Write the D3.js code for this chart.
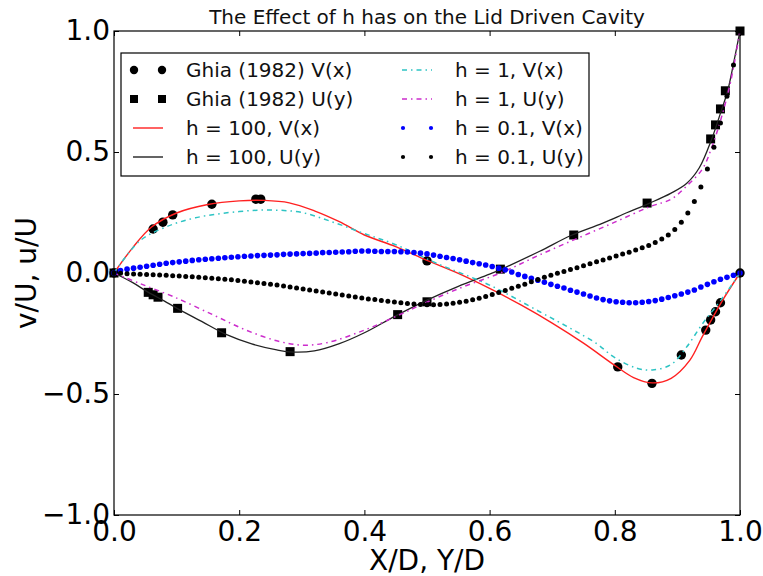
<!DOCTYPE html>
<html>
<head>
<meta charset="utf-8">
<title>The Effect of h has on the Lid Driven Cavity</title>
<script src="https://cdn.jsdelivr.net/npm/d3@7"></script>
<style>
  body { margin: 0; background: #fff; }
  svg { font-family: "DejaVu Sans", sans-serif; }
</style>
</head>
<body>
<div id="chart"></div>
<script>
// Ghia (1982) reference points
var ghiaX = [0, 0.0625, 0.0781, 0.0938, 0.1563, 0.2266, 0.2344, 0.5, 0.8047, 0.8594, 0.9063, 0.9453, 0.9531, 0.9609, 0.9688, 1];
var ghiaV = [0, 0.182, 0.21, 0.24, 0.284, 0.305, 0.305, 0.05, -0.388, -0.456, -0.339, -0.236, -0.194, -0.16, -0.123, 0];
var ghiaY = [0, 0.0547, 0.0625, 0.0703, 0.1016, 0.1719, 0.2813, 0.4531, 0.5, 0.6172, 0.7344, 0.8516, 0.9531, 0.9609, 0.9688, 0.9766, 1];
var ghiaU = [0, -0.08, -0.09, -0.10, -0.146, -0.247, -0.325, -0.172, -0.119, 0.016, 0.157, 0.289, 0.554, 0.612, 0.678, 0.753, 1.0];

// h = 100
var h100Vx = [0, 0.03, 0.06, 0.1, 0.15, 0.2, 0.24, 0.28, 0.32, 0.36, 0.4, 0.45, 0.5, 0.55, 0.6, 0.65, 0.7, 0.75, 0.8, 0.83, 0.86, 0.89, 0.92, 0.94, 0.97, 1];
var h100V = [0, 0.105, 0.19, 0.248, 0.283, 0.298, 0.300, 0.290, 0.257, 0.212, 0.157, 0.109, 0.052, -0.002, -0.064, -0.132, -0.207, -0.29, -0.382, -0.432, -0.454, -0.435, -0.36, -0.262, -0.122, 0];
var h100Uy = [0, 0.03, 0.055, 0.08, 0.1, 0.14, 0.18, 0.22, 0.26, 0.28, 0.32, 0.36, 0.4, 0.45, 0.5, 0.55, 0.6, 0.62, 0.68, 0.73, 0.78, 0.82, 0.855, 0.89, 0.915, 0.935, 0.955, 0.97, 0.98, 0.99, 1];
var h100U = [0, -0.04, -0.08, -0.115, -0.145, -0.2, -0.255, -0.293, -0.318, -0.326, -0.322, -0.292, -0.247, -0.177, -0.112, -0.055, -0.005, 0.017, 0.09, 0.155, 0.205, 0.25, 0.288, 0.33, 0.371, 0.435, 0.555, 0.67, 0.75, 0.87, 1.0];

// h = 1
var h1Vx = [0, 0.04, 0.08, 0.13, 0.2, 0.25, 0.3, 0.35, 0.4, 0.45, 0.52, 0.6, 0.68, 0.73, 0.77, 0.8, 0.835, 0.86, 0.89, 0.915, 0.94, 0.97, 1];
var h1V = [0, 0.13, 0.187, 0.228, 0.254, 0.26, 0.25, 0.21, 0.163, 0.117, 0.035, -0.05, -0.16, -0.23, -0.29, -0.35, -0.393, -0.401, -0.378, -0.305, -0.21, -0.11, 0];
var h1Uy = [0, 0.04, 0.095, 0.16, 0.21, 0.26, 0.3, 0.34, 0.4, 0.45, 0.49, 0.55, 0.62, 0.68, 0.74, 0.8, 0.856, 0.89, 0.915, 0.94, 0.955, 0.97, 0.985, 1];
var h1U = [0, -0.042, -0.098, -0.175, -0.235, -0.28, -0.298, -0.288, -0.236, -0.18, -0.132, -0.065, 0.003, 0.075, 0.143, 0.21, 0.274, 0.305, 0.36, 0.43, 0.52, 0.64, 0.79, 1];

// h = 0.1, samples evenly spaced from 0 to 1
var h01V = [0, 0.010, 0.016, 0.020, 0.024, 0.028, 0.032, 0.036, 0.040, 0.043,
  0.046, 0.049, 0.052, 0.055, 0.057, 0.059, 0.061, 0.063, 0.065, 0.067,
  0.069, 0.070, 0.072, 0.073, 0.074, 0.075, 0.077, 0.078, 0.079, 0.080,
  0.081, 0.082, 0.084, 0.085, 0.086, 0.087, 0.088, 0.090, 0.091, 0.091,
  0.090, 0.089, 0.089, 0.089, 0.088, 0.087, 0.085, 0.082, 0.079, 0.074,
  0.069, 0.064, 0.060, 0.055, 0.049, 0.043, 0.038, 0.033, 0.027, 0.020,
  0.013, 0.004, -0.006, -0.014, -0.022, -0.030, -0.038, -0.047, -0.055, -0.062,
  -0.071, -0.079, -0.087, -0.095, -0.103, -0.110, -0.115, -0.119, -0.121, -0.123,
  -0.123, -0.121, -0.118, -0.114, -0.108, -0.101, -0.094, -0.087, -0.079, -0.070,
  -0.058, -0.047, -0.036, -0.026, -0.018, -0.009, 0];
var h01U = [0, -0.001, -0.003, -0.004, -0.005, -0.006, -0.007, -0.008, -0.009, -0.011,
  -0.012, -0.014, -0.016, -0.018, -0.020, -0.022, -0.024, -0.026, -0.028, -0.031,
  -0.034, -0.037, -0.040, -0.043, -0.046, -0.050, -0.054, -0.058, -0.062, -0.066,
  -0.070, -0.074, -0.079, -0.083, -0.087, -0.091, -0.095, -0.099, -0.103, -0.107,
  -0.110, -0.114, -0.117, -0.120, -0.123, -0.126, -0.128, -0.130, -0.131, -0.131,
  -0.130, -0.128, -0.125, -0.121, -0.117, -0.111, -0.104, -0.097, -0.089, -0.081,
  -0.072, -0.063, -0.055, -0.046, -0.036, -0.027, -0.018, -0.009, -0.001, 0.006,
  0.014, 0.022, 0.030, 0.038, 0.046, 0.054, 0.062, 0.070, 0.078, 0.086,
  0.095, 0.104, 0.114, 0.126, 0.140, 0.157, 0.180, 0.210, 0.248, 0.295,
  0.355, 0.430, 0.520, 0.620, 0.730, 0.860, 1.0];

var xTicks = [0, 0.2, 0.4, 0.6, 0.8, 1.0];
var yTicks = [-1, -0.5, 0, 0.5, 1];
var legendLabels = ['Ghia (1982) V(x)', 'Ghia (1982) U(y)', 'h = 100, V(x)', 'h = 100, U(y)',
  'h = 1, V(x)', 'h = 1, U(y)', 'h = 0.1, V(x)', 'h = 0.1, U(y)'];

var width = 763, height = 576;
var plotL = 114, plotR = 740, plotT = 31, plotB = 515;

var svg = d3.select('#chart').append('svg')
  .attr('width', width)
  .attr('height', height);

var x = d3.scaleLinear().domain([0, 1]).range([plotL, plotR]);
var y = d3.scaleLinear().domain([-1, 1]).range([plotB, plotT]);
var fmt = d3.format('.1f');

svg.append('defs').append('clipPath').attr('id', 'clip')
  .append('rect')
  .attr('x', plotL - 6).attr('y', plotT - 6)
  .attr('width', plotR - plotL + 12).attr('height', plotB - plotT + 12);

// axes, ticks pointing inward
function styleAxis(g) {
  g.select('.domain').remove();
  g.selectAll('.tick line').attr('stroke', '#000').attr('stroke-width', 1);
  g.selectAll('.tick text').attr('fill', '#000').style('font-size', '28px').style('font-family', '"DejaVu Sans", sans-serif');
}

svg.append('g')
  .attr('transform', `translate(0,${plotB})`)
  .call(d3.axisBottom(x).tickValues(xTicks).tickFormat(fmt).tickSize(-5).tickPadding(6))
  .call(styleAxis);
svg.append('g')
  .attr('transform', `translate(0,${plotT})`)
  .call(d3.axisTop(x).tickValues(xTicks).tickFormat('').tickSize(-5))
  .call(styleAxis);
svg.append('g')
  .attr('transform', `translate(${plotL},0)`)
  .call(d3.axisLeft(y).tickValues(yTicks).tickFormat(fmt).tickSize(-5).tickPadding(4))
  .call(styleAxis);
svg.append('g')
  .attr('transform', `translate(${plotR},0)`)
  .call(d3.axisRight(y).tickValues(yTicks).tickFormat('').tickSize(-5))
  .call(styleAxis);

var plot = svg.append('g').attr('clip-path', 'url(#clip)');

var line = d3.line()
  .x(d => x(d[0]))
  .y(d => y(d[1]))
  .curve(d3.curveCatmullRom.alpha(0.5));

var pairs = (xs, ys) => xs.map((v, i) => [v, ys[i]]);

// Ghia markers
plot.selectAll('circle.ghia')
  .data(pairs(ghiaX, ghiaV))
  .enter().append('circle')
  .attr('class', 'ghia')
  .attr('cx', d => x(d[0]))
  .attr('cy', d => y(d[1]))
  .attr('r', 4.7)
  .attr('fill', '#000');

plot.selectAll('rect.ghia')
  .data(pairs(ghiaY, ghiaU))
  .enter().append('rect')
  .attr('class', 'ghia')
  .attr('x', d => x(d[0]) - 4.5)
  .attr('y', d => y(d[1]) - 4.5)
  .attr('width', 9)
  .attr('height', 9)
  .attr('fill', '#000');

var curves = [
  { data: pairs(h100Vx, h100V), color: '#ff2020', w: 1.4, dash: null },
  { data: pairs(h100Uy, h100U), color: '#222', w: 1.3, dash: null },
  { data: pairs(h1Vx, h1V), color: '#2ec4c4', w: 1.5, dash: '5,4,1.5,4' },
  { data: pairs(h1Uy, h1U), color: '#cc2ccc', w: 1.5, dash: '5,4,1.5,4' }
];

curves.forEach(c => {
  plot.append('path')
    .datum(c.data)
    .attr('d', line)
    .attr('fill', 'none')
    .attr('stroke', c.color)
    .attr('stroke-width', c.w)
    .attr('stroke-dasharray', c.dash);
});

// h = 0.1 samples sit on an even grid across the cavity
var xi = d3.scaleLinear().domain([0, h01V.length - 1]).range([x(0), x(1)]);

plot.selectAll('circle.blue')
  .data(h01V)
  .enter().append('circle')
  .attr('class', 'blue')
  .attr('cx', (d, i) => xi(i))
  .attr('cy', d => y(d))
  .attr('r', 2.8)
  .attr('fill', '#0000ff');

plot.selectAll('circle.dark')
  .data(h01U)
  .enter().append('circle')
  .attr('class', 'dark')
  .attr('cx', (d, i) => xi(i))
  .attr('cy', d => y(d))
  .attr('r', 2.5)
  .attr('fill', '#000');

// frame
svg.append('rect')
  .attr('x', plotL).attr('y', plotT)
  .attr('width', plotR - plotL).attr('height', plotB - plotT)
  .attr('fill', 'none')
  .attr('stroke', '#000')
  .attr('stroke-width', 1.2);

// legend
var legend = svg.append('g');
legend.append('rect')
  .attr('x', 121).attr('y', 53)
  .attr('width', 468).attr('height', 123)
  .attr('fill', '#fff')
  .attr('stroke', '#000')
  .attr('stroke-width', 1.2);

var legendKinds = ['circle', 'square', 'line', 'line', 'line', 'line', 'dot', 'dot'];
var legendColors = ['#000', '#000', '#ff2020', '#222', '#2ec4c4', '#cc2ccc', '#0000ff', '#000'];

legendLabels.forEach((label, i) => {
  var col = Math.floor(i / 4), row = i % 4;
  var cy = 70 + row * 29;
  var x0 = col ? 403 : 134, x1 = col ? 431 : 162;
  var g = legend.append('g');
  var kind = legendKinds[i];
  if (kind === 'circle') {
    [x0, x1].forEach(px => g.append('circle').attr('cx', px).attr('cy', cy).attr('r', 4.2).attr('fill', legendColors[i]));
  } else if (kind === 'square') {
    [x0, x1].forEach(px => g.append('rect').attr('x', px - 4).attr('y', cy - 4).attr('width', 8).attr('height', 8).attr('fill', legendColors[i]));
  } else if (kind === 'dot') {
    [x0, x1].forEach(px => g.append('circle').attr('cx', px).attr('cy', cy).attr('r', 2.1).attr('fill', legendColors[i]));
  } else {
    g.append('line')
      .attr('x1', x0 - 1).attr('x2', x1 + 1)
      .attr('y1', cy).attr('y2', cy)
      .attr('stroke', legendColors[i])
      .attr('stroke-width', i < 4 ? 1.4 : 1.5)
      .attr('stroke-dasharray', i < 4 ? null : '5,4,1.5,4');
  }
  g.append('text')
    .attr('x', col ? 455 : 186)
    .attr('y', cy + 7)
    .style('font-size', '20px')
    .attr('fill', '#111')
    .text(label);
});

// titles
svg.append('text')
  .attr('x', (plotL + plotR) / 2)
  .attr('y', 24)
  .attr('text-anchor', 'middle')
  .style('font-size', '20px')
  .attr('fill', '#111')
  .text('The Effect of h has on the Lid Driven Cavity');

svg.append('text')
  .attr('x', (plotL + plotR) / 2)
  .attr('y', 570)
  .attr('text-anchor', 'middle')
  .style('font-size', '28px')
  .text('X/D, Y/D');

svg.append('text')
  .attr('transform', `translate(36,${(plotT + plotB) / 2}) rotate(-90)`)
  .attr('text-anchor', 'middle')
  .style('font-size', '28px')
  .text('v/U, u/U');
</script>
</body>
</html>
